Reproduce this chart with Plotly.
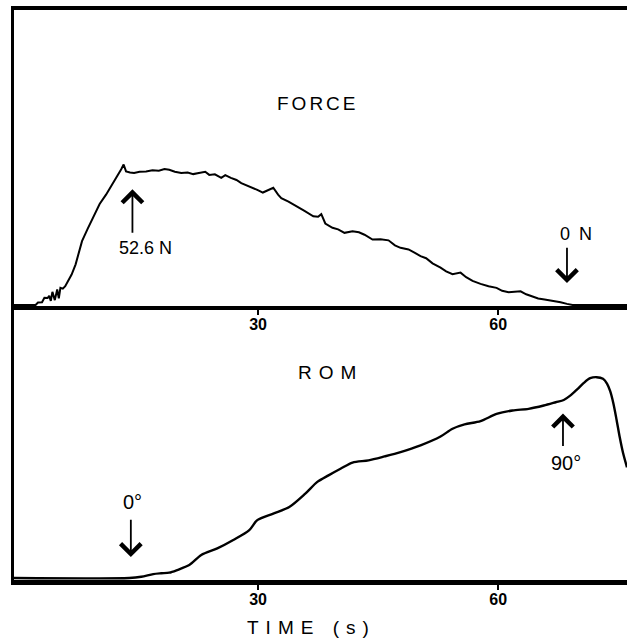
import plotly.graph_objects as go

# ---------------- data ----------------
force_time = [-0.5, 2.2, 2.5, 3.0, 3.3, 3.7, 3.9, 4.1, 4.3, 4.6, 4.9, 5.1, 5.3, 5.6, 5.9, 6.3, 6.7,
              7.2, 7.6, 8.0, 8.7, 9.5, 10.2, 11.0, 11.8, 12.5, 12.9, 13.2, 13.5, 14.0, 14.5, 15.2,
              16.0, 16.8, 17.6, 18.3, 18.9, 19.6, 20.4, 21.2, 21.9, 22.6, 23.4, 23.9, 24.6, 25.4,
              25.9, 26.6, 27.3, 27.9, 28.8, 29.9, 30.6, 31.3, 31.9, 32.5, 32.9, 33.8, 34.9, 35.8,
              36.9, 37.5, 37.9, 38.4, 39.3, 40.0, 40.8, 41.8, 42.6, 43.3, 44.3, 45.3, 46.3, 47.1,
              47.8, 48.8, 49.6, 50.3, 51.0, 51.8, 52.8, 53.5, 54.3, 55.3, 56.0, 56.8, 57.8, 58.8,
              59.8, 60.5, 61.3, 62.1, 62.8, 63.5, 64.2, 65.0, 65.8, 66.8, 67.8, 68.6, 69.3, 76.1]
force_newton = [0, 0, 0.9, 1.0, 2.7, 2.6, 3.4, 1.5, 4.9, 1.8, 5.8, 2.5, 6.4, 6.1, 7.0, 9.0, 11.4,
                15.2, 19.5, 23.9, 28.5, 33.8, 37.8, 41.3, 45.2, 48.8, 50.8, 52.6, 50.0, 49.6, 49.4,
                49.9, 50.0, 50.4, 50.3, 50.9, 50.6, 49.9, 49.4, 49.6, 49.0, 49.4, 49.9, 48.7, 48.9,
                47.6, 48.6, 47.6, 46.8, 45.6, 44.6, 43.1, 42.1, 43.1, 43.9, 41.3, 40.0, 38.7, 36.9,
                35.2, 33.2, 33.0, 34.0, 30.5, 28.9, 28.3, 27.0, 27.6, 27.2, 26.3, 24.5, 24.6, 24.2,
                22.3, 21.4, 20.8, 19.5, 18.3, 17.5, 15.6, 14.0, 12.6, 11.5, 12.1, 10.4, 9.0, 7.9,
                7.0, 6.4, 5.3, 4.8, 5.1, 5.1, 4.0, 3.2, 2.4, 2.0, 1.6, 1.0, 0.4, 0.0, 0.0]

rom_time = [-0.5, 13.9, 15.4, 16.9, 17.9, 18.9, 19.9, 21.4, 22.9, 24.9, 26.9, 28.9, 29.9, 31.9,
            33.9, 35.9, 37.4, 38.8, 40.3, 41.8, 43.8, 45.8, 47.8, 50.3, 52.8, 54.3, 55.8, 57.8,
            59.8, 61.8, 63.8, 65.7, 67.2, 68.2, 69.0, 69.9, 70.7, 71.5, 72.3, 73.1, 73.6, 74.0,
            74.4, 74.8, 75.2, 75.6, 76.1]
rom_degree = [0, 0, 0.6, 1.9, 2.3, 2.6, 3.9, 6.3, 11.2, 14.4, 18.5, 23.3, 28.2, 31.4, 34.6,
              41.1, 46.8, 50.0, 53.2, 56.2, 57.3, 59.2, 61.3, 64.6, 68.9, 72.7, 74.8, 76.4, 79.9,
              81.6, 82.4, 84.0, 85.6, 86.7, 88.8, 92.0, 95.0, 97.3, 97.8, 97.0, 94.7, 91.0, 85.0,
              77.0, 68.4, 61.0, 53.9, 48.5]

time_ticks = [30, 60]
time_tick_labels = ["30", "60"]

# ---------------- figure ----------------
FONT = "Liberation Sans, Arial, Helvetica, sans-serif"
fig = go.Figure()
fig.add_trace(go.Scatter(x=force_time, y=force_newton, mode="lines",
                         line=dict(color="black", width=2), xaxis="x", yaxis="y",
                         showlegend=False, hoverinfo="skip"))
fig.add_trace(go.Scatter(x=rom_time, y=rom_degree, mode="lines",
                         line=dict(color="black", width=2.4, shape="spline", smoothing=0.8),
                         xaxis="x2", yaxis="y2", showlegend=False, hoverinfo="skip"))

split = 0.4808
xcommon = dict(range=[-0.5, 76.1], showgrid=False, zeroline=False, showline=True,
               linecolor="black", ticks="outside", ticklen=5, tickwidth=2, tickcolor="black",
               tickvals=time_ticks, ticktext=time_tick_labels,
               tickfont=dict(family=FONT, size=16, color="black", weight="bold"),
               ticklabelstandoff=-4)
ycommon = dict(showgrid=False, zeroline=False, showline=True, linecolor="black", linewidth=3,
               showticklabels=False, ticks="")

fig.update_layout(
    width=627, height=641,
    margin=dict(l=14, r=0, t=10, b=61),
    paper_bgcolor="white", plot_bgcolor="white",
    xaxis=dict(**xcommon, anchor="y", linewidth=4, mirror=True),
    yaxis=dict(**ycommon, domain=[split, 1], range=[-0.37, 110.45], anchor="x"),
    xaxis2=dict(**xcommon, anchor="y2", linewidth=5, matches="x"),
    yaxis2=dict(**ycommon, domain=[0, split], range=[-0.97, 132.5], anchor="x2"),
)

def label(text, x, y, size, xref="x", yref="y", spacing=0):
    t = text if spacing == 0 else f'<span style="letter-spacing:{spacing}px">{text}</span>'
    fig.add_annotation(x=x, y=y, xref=xref, yref=yref, text=t, showarrow=False,
                       xanchor="center", yanchor="middle",
                       font=dict(family=FONT, size=size, color="black"))

def arrow(x, y_tail, y_tip, xref="x", yref="y"):
    fig.add_annotation(x=x, y=y_tip, ax=x, ay=y_tail, xref=xref, yref=yref,
                       axref=xref, ayref=yref, text="", showarrow=True,
                       arrowhead=4, arrowsize=2.2, arrowwidth=1.8, arrowcolor="black",
                       standoff=0, startstandoff=0)

label("FORCE", 37.5, 75.4, 19, spacing=3)
label("52.6 N", 15.9, 21.3, 18)
arrow(14.3, 26.5, 43.3)
label("0 N", 69.9, 26.5, 18, spacing=2)
arrow(68.6, 22.0, 8.2)

label("ROM", 39.1, 100, 19, "x2", "y2", spacing=7)
label("0°", 14.3, 36.9, 20, "x2", "y2")
arrow(14.1, 29.1, 10.2, "x2", "y2")
label("90°", 68.5, 55.8, 20, "x2", "y2")
arrow(68.1, 63.6, 80.1, "x2", "y2")

label("TIME (s)", 0.4846, -0.0839, 19, "paper", "paper", spacing=7)

fig.write_html("out.html", config={"displayModeBar": False},
               post_script="document.body.style.margin='0';document.body.style.overflow='hidden';")
